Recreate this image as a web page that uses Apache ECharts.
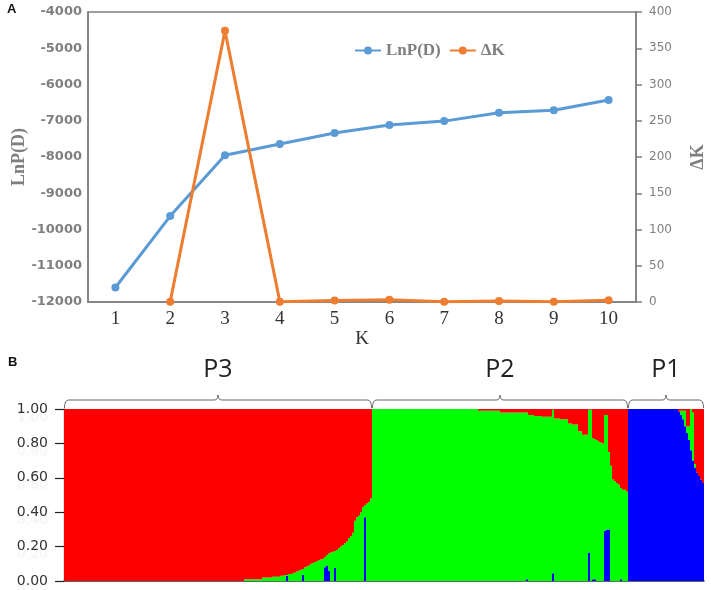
<!DOCTYPE html>
<html>
<head>
<meta charset="utf-8">
<script src="https://cdn.jsdelivr.net/npm/echarts@6/dist/echarts.min.js"></script>
<style>
html,body{margin:0;padding:0;background:#fff;}
#chart{width:711px;height:590px;}
</style>
</head>
<body>
<div id="chart"></div>
<script>
// ---------- Panel A data ----------
const kValues = ['1','2','3','4','5','6','7','8','9','10'];
const lnPD = [-11600, -9630, -7950, -7640, -7340, -7120, -7010, -6780, -6710, -6430];
const deltaK = [null, 0.5, 374, 0.5, 2, 3, 0.5, 1.5, 0.5, 2.5];
const lnTicks = {min: -12000, max: -4000, step: 1000};
const dkTicks = {min: 0, max: 400, step: 50};

// ---------- Panel B data (membership coefficients per individual) ----------
const popNames = ['P3', 'P2', 'P1'];
const popSizes = [154, 128, 38];
const qTicks = {min: 0, max: 1, step: 0.2};

const p3Blue = [
0,0,0,0,0,0,0,0,0,0, 0,0,0,0,0,0,0,0,0,0, 0,0,0,0,0,0,0,0,0,0,
0,0,0,0,0,0,0,0,0,0, 0,0,0,0,0,0,0,0,0,0, 0,0,0,0,0,0,0,0,0,0,
0,0,0,0,0,0,0,0,0,0, 0,0,0,0,0,0,0,0,0,0, 0,0,0,0,0,0,0,0,0,0,
0,0,0,0,0,0,0,0,0,0, 0,0,0,0,0,0,0,0,0,0,
0,0.03,0,0,0,0,0,0,0,0.035,
0,0,0,0,0,0,0,0,0,0,
0.08,0.09,0.06,0,0,0.075,0,0,0,0,
0,0,0,0,0,0,0,0,0,0,
0.37,0,0,0];
const p3Green = [
0,0,0,0,0,0,0,0,0,0, 0,0,0,0,0,0,0,0,0,0, 0,0,0,0,0,0,0,0,0,0,
0,0,0,0,0,0,0,0,0,0, 0,0,0,0,0,0,0,0,0,0, 0,0,0,0,0,0,0,0,0,0,
0,0,0,0,0,0,0,0,0,0, 0,0,0,0,0,0,0,0,0,0, 0,0,0,0,0,0,0,0,0,0,
0.01,0.01,0.01,0.01,0.01,0.01,0.01,0.01,0.01,0.02,
0.02,0.02,0.02,0.02,0.025,0.025,0.025,0.025,0.03,0.03,
0.035,0.005,0.04,0.04,0.045,0.05,0.055,0.06,0.065,0.035,
0.08,0.085,0.09,0.10,0.105,0.11,0.115,0.12,0.125,0.13,
0.06,0.06,0.10,0.165,0.17,0.10,0.18,0.19,0.20,0.21,
0.22,0.23,0.25,0.26,0.28,0.35,0.37,0.38,0.40,0.43,
0.07,0.45,0.46,0.48];
const p3Red = [
1,1,1,1,1,1,1,1,1,1, 1,1,1,1,1,1,1,1,1,1, 1,1,1,1,1,1,1,1,1,1,
1,1,1,1,1,1,1,1,1,1, 1,1,1,1,1,1,1,1,1,1, 1,1,1,1,1,1,1,1,1,1,
1,1,1,1,1,1,1,1,1,1, 1,1,1,1,1,1,1,1,1,1, 1,1,1,1,1,1,1,1,1,1,
0.99,0.99,0.99,0.99,0.99,0.99,0.99,0.99,0.99,0.98,
0.98,0.98,0.98,0.98,0.975,0.975,0.975,0.975,0.97,0.97,
0.965,0.965,0.96,0.96,0.955,0.95,0.945,0.94,0.935,0.93,
0.92,0.915,0.91,0.90,0.895,0.89,0.885,0.88,0.875,0.87,
0.86,0.85,0.84,0.835,0.83,0.825,0.82,0.81,0.80,0.79,
0.78,0.77,0.75,0.74,0.72,0.65,0.63,0.62,0.60,0.57,
0.56,0.55,0.54,0.52];

const p2Blue = [
0,0,0,0,0,0,0,0,0,0, 0,0,0,0,0,0,0,0,0,0, 0,0,0,0,0,0,0,0,0,0,
0,0,0,0,0,0,0,0,0,0, 0,0,0,0,0,0,0,0,0,0,
0,0,0,0,0,0,0,0,0,0,
0,0,0,0,0,0,0,0,0,0,
0,0,0,0,0,0,0,0.01,0,0,
0,0,0,0,0,0,0,0,0,0,
0.045,0,0,0,0,0,0,0,0,0,
0,0,0,0,0,0,0,0,0.165,0,
0.01,0.01,0,0,0,0,0.29,0.30,0.30,0,
0,0,0,0,0.01,0,0,0];
const p2Green = [
1,1,1,1,1,1,1,1,1,1, 1,1,1,1,1,1,1,1,1,1, 1,1,1,1,1,1,1,1,1,1,
1,1,1,1,1,1,1,1,1,1, 1,1,1,1,1,1,1,1,1,1,
1,1,1,0.99,0.99,0.99,0.99,0.99,0.99,0.99,
0.99,0.99,0.99,0.99,0.98,0.98,0.98,0.98,0.98,0.98,
0.98,0.98,0.98,0.98,0.98,0.98,0.98,0.97,0.965,0.965,
0.965,0.96,0.96,0.96,0.96,0.955,0.955,0.955,0.955,0.955,
0.95,0.945,0.945,0.945,0.94,0.94,0.94,0.94,0.915,0.915,
0.91,0.91,0.91,0.87,0.87,0.85,0.85,0.85,0.83,0.995,
0.82,0.815,0.82,0.81,0.805,0.80,0.675,0.665,0.45,0.67,
0.59,0.58,0.57,0.56,0.53,0.53,0.53,0.52];
const p2Red = [
0,0,0,0,0,0,0,0,0,0, 0,0,0,0,0,0,0,0,0,0, 0,0,0,0,0,0,0,0,0,0,
0,0,0,0,0,0,0,0,0,0, 0,0,0,0,0,0,0,0,0,0,
0,0,0,0.01,0.01,0.01,0.01,0.01,0.01,0.01,
0.01,0.01,0.01,0.01,0.02,0.02,0.02,0.02,0.02,0.02,
0.02,0.02,0.02,0.02,0.02,0.02,0.02,0.02,0.035,0.035,
0.035,0.04,0.04,0.04,0.04,0.045,0.045,0.045,0.045,0.045,
0.005,0.055,0.055,0.055,0.06,0.06,0.06,0.06,0.085,0.085,
0.09,0.09,0.09,0.13,0.13,0.15,0.15,0.15,0.005,0.005,
0.17,0.175,0.18,0.19,0.195,0.20,0.035,0.035,0.25,0.33,
0.41,0.42,0.43,0.44,0.46,0.47,0.47,0.48];

const p1Blue = [
1,1,1,1,1,1,1,1,1,1, 1,1,1,1,1,1,1,1,1,1,
1,1,1,1,1,0.985,0.965,0.94,0.90,0.86,
0.82,0.76,0.70,0.66,0.63,0.61,0.59,0.57];
const p1Green = [
0,0,0,0,0,0,0,0,0,0, 0,0,0,0,0,0,0,0,0,0,
0,0,0,0,0,0,0.025,0.05,0.09,0.04,
0.08,0.24,0.28,0.02,0,0,0,0];
const p1Red = [
0,0,0,0,0,0,0,0,0,0, 0,0,0,0,0,0,0,0,0,0,
0,0,0,0,0,0.015,0.01,0.01,0.01,0.10,
0.10,0,0.02,0.32,0.37,0.39,0.41,0.43];

// ---------- build ----------
const blueQ = p3Blue.concat(p2Blue, p1Blue);
const greenQ = p3Green.concat(p2Green, p1Green);
const redQ = p3Red.concat(p2Red, p1Red);
const individuals = blueQ.map((_, i) => String(i + 1));

let acc = 0;
const bracketData = popNames.map((n, k) => {
  const s = acc; acc += popSizes[k];
  return [s, acc - 1, k];
});

const GRAY = '#7f7f7f';
const chart = echarts.init(document.getElementById('chart'), null, {renderer: 'canvas'});

const option = {
  animation: false,
  backgroundColor: '#fff',
  grid: [
    {left: 88, top: 12, width: 548, height: 290, show: true, borderColor: GRAY, borderWidth: 1.5,
     backgroundColor: 'transparent', containLabel: false, outerBoundsMode: 'none'},
    {left: 64, top: 409, width: 640, height: 172, containLabel: false, outerBoundsMode: 'none'}
  ],
  legend: {
    data: ['LnP(D)', 'ΔK'],
    left: 349, top: 37,
    itemWidth: 26, itemHeight: 10, itemGap: 8,
    textStyle: {fontFamily: 'Liberation Serif', fontWeight: 'bold', fontSize: 17, color: GRAY}
  },
  xAxis: [
    {
      type: 'category', gridIndex: 0, data: kValues, boundaryGap: true,
      axisLine: {lineStyle: {color: GRAY, width: 1.5}},
      axisTick: {show: false},
      axisLabel: {fontFamily: 'Liberation Serif', fontSize: 19, color: '#333', margin: 8},
      name: 'K', nameLocation: 'middle', nameGap: 26,
      nameTextStyle: {fontFamily: 'Liberation Serif', fontSize: 19, color: '#333'}
    },
    {
      type: 'category', gridIndex: 1, data: individuals, boundaryGap: true,
      axisLine: {lineStyle: {color: '#333', width: 1.5}},
      axisTick: {show: false},
      axisLabel: {show: false}
    }
  ],
  yAxis: [
    {
      type: 'value', gridIndex: 0, min: lnTicks.min, max: lnTicks.max, interval: lnTicks.step,
      axisLine: {show: true, lineStyle: {color: GRAY, width: 1.5}},
      axisTick: {show: false},
      splitLine: {show: false},
      axisLabel: {fontFamily: 'DejaVu Sans', fontWeight: 'bold', fontSize: 13, color: GRAY, margin: 6,
                  formatter: v => String(v)},
      name: 'LnP(D)', nameLocation: 'middle', nameGap: 60, nameRotate: 90, nameMoveOverlap: false,
      nameTextStyle: {fontFamily: 'Liberation Serif', fontWeight: 'bold', fontSize: 18, color: GRAY}
    },
    {
      type: 'value', gridIndex: 0, position: 'right', min: dkTicks.min, max: dkTicks.max, interval: dkTicks.step,
      axisLine: {show: true, lineStyle: {color: GRAY, width: 1.5}},
      axisTick: {show: true, length: 6, lineStyle: {color: GRAY, width: 1.5}},
      splitLine: {show: false},
      axisLabel: {fontFamily: 'DejaVu Sans', fontSize: 12, color: GRAY, margin: 13},
      name: 'ΔK', nameLocation: 'middle', nameGap: 53, nameRotate: 90,
      nameTextStyle: {fontFamily: 'Liberation Serif', fontWeight: 'bold', fontSize: 18, color: GRAY}
    },
    {
      type: 'value', gridIndex: 1, min: qTicks.min, max: qTicks.max, interval: qTicks.step,
      axisLine: {show: true, lineStyle: {color: '#222', width: 1.2}},
      axisTick: {show: true, length: 9, lineStyle: {color: '#222', width: 1.2}},
      splitLine: {show: false},
      axisLabel: {
        fontFamily: 'DejaVu Sans', fontSize: 14, color: '#333', margin: 16,
        formatter: v => v.toFixed(2),
        textShadowColor: 'rgba(0,0,0,0.07)', textShadowBlur: 2, textShadowOffsetY: 8
      }
    }
  ],
  series: [
    {
      name: 'LnP(D)', type: 'line', xAxisIndex: 0, yAxisIndex: 0, data: lnPD,
      symbol: 'circle', symbolSize: 8,
      lineStyle: {color: '#5b9bd5', width: 3}, itemStyle: {color: '#5b9bd5'}
    },
    {
      name: 'ΔK', type: 'line', xAxisIndex: 0, yAxisIndex: 1, data: deltaK,
      symbol: 'circle', symbolSize: 8,
      lineStyle: {color: '#ed7d31', width: 3}, itemStyle: {color: '#ed7d31'}
    },
    {
      name: 'Cluster blue', type: 'bar', xAxisIndex: 1, yAxisIndex: 2, stack: 'q',
      data: blueQ, barCategoryGap: '0%', itemStyle: {color: '#0000ff'}, silent: true
    },
    {
      name: 'Cluster green', type: 'bar', xAxisIndex: 1, yAxisIndex: 2, stack: 'q',
      data: greenQ, barCategoryGap: '0%', itemStyle: {color: '#00ff00'}, silent: true
    },
    {
      name: 'Cluster red', type: 'bar', xAxisIndex: 1, yAxisIndex: 2, stack: 'q',
      data: redQ, barCategoryGap: '0%', itemStyle: {color: '#ff0000'}, silent: true
    },
    {
      name: 'groups', type: 'custom', xAxisIndex: 1, yAxisIndex: 2, clip: false, silent: true,
      data: bracketData,
      encode: {x: [0, 1]},
      renderItem: function (params, api) {
        const s = api.value(0), e = api.value(1), k = api.value(2);
        const half = api.size([1, 0])[0] / 2;
        const p0 = api.coord([s, 1]);
        const p1 = api.coord([e, 1]);
        const x0 = p0[0] - half + 0.5, x1 = p1[0] + half - 0.5;
        const yTop = p0[1];
        const yb = yTop - 1, yl = yTop - 9, yn = yTop - 14;
        const xm = (x0 + x1) / 2;
        const d = `M${x0} ${yb} Q${x0} ${yl} ${x0 + 4} ${yl} L${xm - 4} ${yl} Q${xm} ${yl} ${xm} ${yn} Q${xm} ${yl} ${xm + 4} ${yl} L${x1 - 4} ${yl} Q${x1} ${yl} ${x1} ${yb}`;
        return {
          type: 'group',
          children: [
            {type: 'path', shape: {pathData: d}, style: {stroke: '#666', lineWidth: 1, fill: null}},
            {type: 'text', x: xm, y: yTop - 39,
              style: {text: popNames[k], fontFamily: 'Open Sans', fontSize: 25, fill: '#222', align: 'center', verticalAlign: 'middle'}}
          ]
        };
      }
    }
  ],
  graphic: [
    {type: 'text', left: 7, top: 3, style: {text: 'A', font: 'bold 13px "Liberation Sans"', fill: '#111'}},
    {type: 'text', left: 8, top: 356, style: {text: 'B', font: 'bold 13px "Liberation Sans"', fill: '#111'}}
  ]
};
chart.setOption(option);
</script>
</body>
</html>
